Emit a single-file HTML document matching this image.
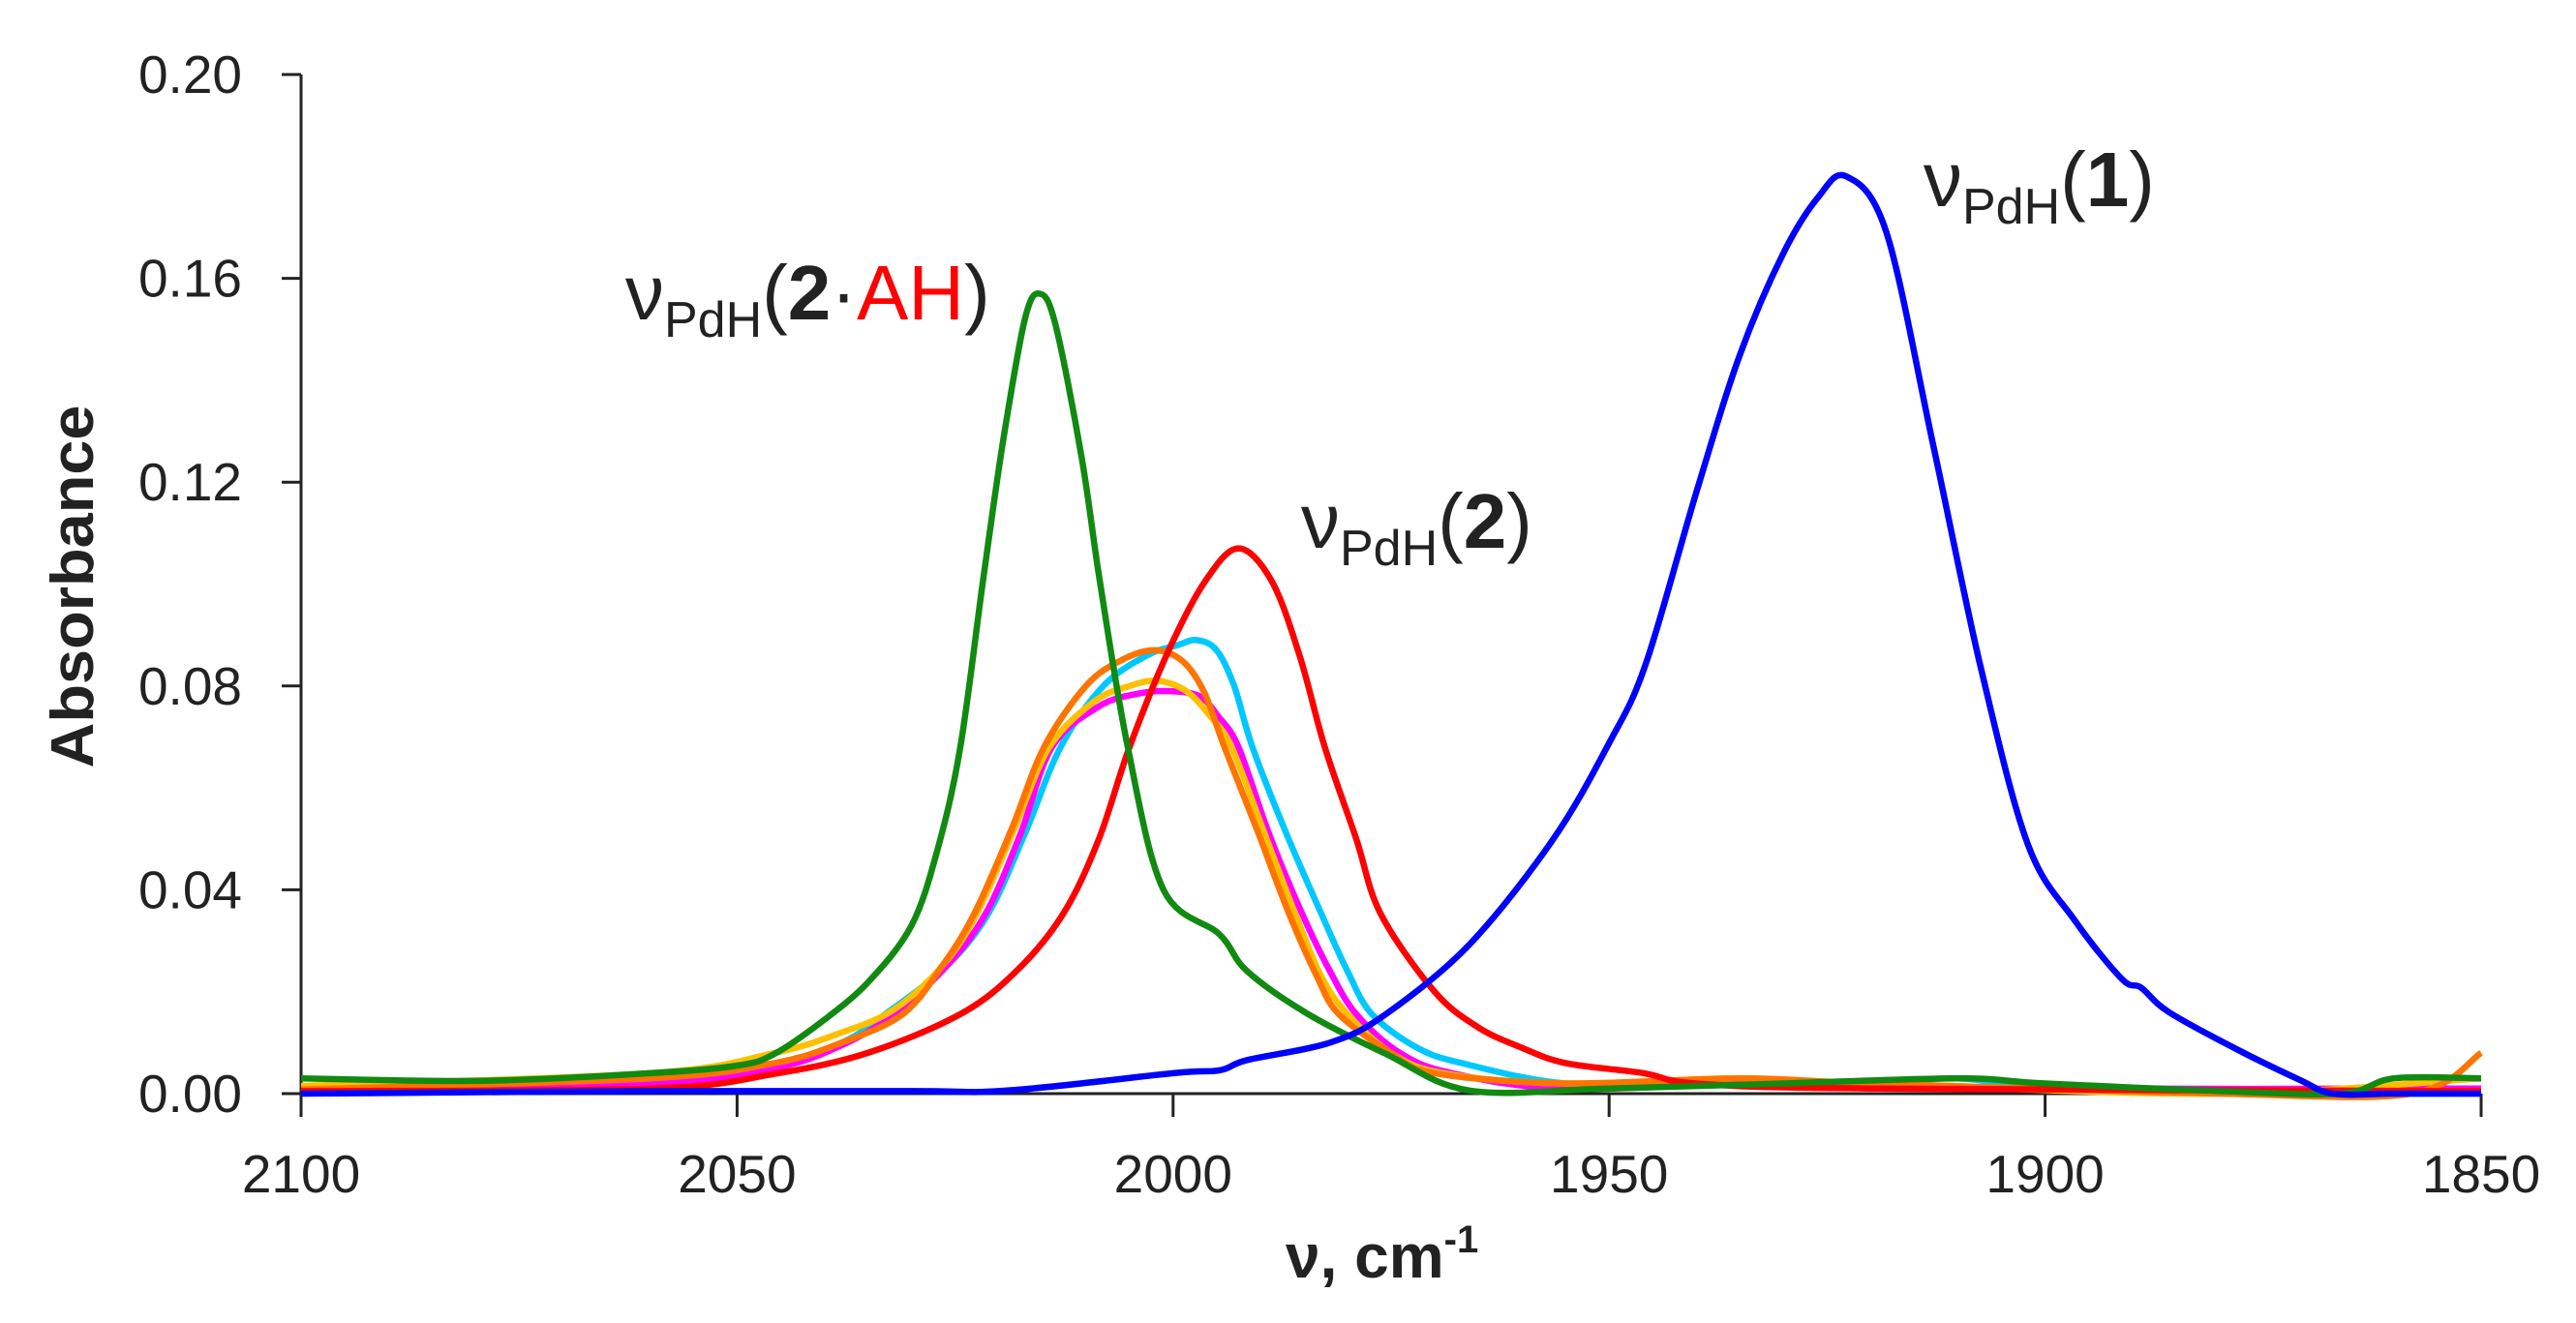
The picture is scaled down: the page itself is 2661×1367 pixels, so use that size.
<!DOCTYPE html>
<html><head><meta charset="utf-8"><style>
html,body{margin:0;padding:0;background:#fff;}
svg{display:block;}
text{font-family:"Liberation Sans",sans-serif;fill:#222;}
</style></head><body>
<svg id="chart" width="2661" height="1367" viewBox="0 0 2661 1367" xmlns="http://www.w3.org/2000/svg">
<g id="axes"></g>
<g id="series"></g>
<text transform="translate(96,606) rotate(-90)" text-anchor="middle" font-size="62" font-weight="bold" textLength="375" lengthAdjust="spacingAndGlyphs">Absorbance</text>
<text x="1328" y="1320" font-size="64" font-weight="bold">ν, cm<tspan dy="-26" font-size="40">-1</tspan></text>
<text x="646" y="330" font-size="80">ν<tspan dy="18" font-size="52">PdH</tspan><tspan dy="-18">(</tspan><tspan font-weight="bold">2</tspan>·<tspan fill="#ff0000" style="fill:#ff0000">AH</tspan>)</text>
<text x="1344" y="566" font-size="80">ν<tspan dy="18" font-size="52">PdH</tspan><tspan dy="-18">(</tspan><tspan font-weight="bold">2</tspan>)</text>
<text x="1987" y="213" font-size="80">ν<tspan dy="18" font-size="52">PdH</tspan><tspan dy="-18">(</tspan><tspan font-weight="bold">1</tspan>)</text>
</svg>
<script>
const xTicks = [2100, 2050, 2000, 1950, 1900, 1850];
const yTicks = [0, 0.04, 0.08, 0.12, 0.16, 0.20];
const yTickLabels = ["0.00", "0.04", "0.08", "0.12", "0.16", "0.20"];

const blueNu = [2100, 2060, 2030, 2019, 2000, 1994.6, 1991.5, 1982, 1975.6, 1966, 1956.5, 1950, 1945.8, 1940, 1935, 1930, 1926, 1922.8, 1918.2, 1912.8, 1907.4, 1902, 1896.6, 1891.2, 1889, 1885.8, 1877.8, 1870.8, 1867, 1860, 1850];
const blueA  = [0.000, 0.0005, 0.0005, 0.0006, 0.004, 0.0046, 0.0066, 0.010, 0.0156, 0.0293, 0.0497, 0.0688, 0.0843, 0.118, 0.145, 0.165, 0.176, 0.180, 0.169, 0.127, 0.0838, 0.049, 0.034, 0.0225, 0.0208, 0.016, 0.0085, 0.0027, 0.0, 0.0, 0.0];

const greenNu = [2100, 2080, 2060, 2050, 2045.7, 2040, 2034.9, 2030, 2027, 2024.4, 2021.8, 2019.5, 2017, 2015.3, 2013.5, 2010.5, 2008.4, 2005.2, 2001.1, 1994.7, 1991.5, 1984.5, 1975.6, 1966, 1950, 1930, 1910, 1900, 1880, 1866, 1860, 1850];
const greenA  = [0.003, 0.0025, 0.004, 0.0055, 0.0078, 0.0145, 0.022, 0.033, 0.048, 0.068, 0.1006, 0.128, 0.152, 0.157, 0.151, 0.125, 0.1006, 0.068, 0.040, 0.0313, 0.024, 0.0156, 0.0078, 0.0006, 0.001, 0.002, 0.003, 0.002, 0.0005, 0.0, 0.003, 0.003];

const redNu = [2100, 2060, 2045.7, 2035, 2024.4, 2018, 2012.6, 2008.5, 2005, 2000.5, 1996.3, 1992.5, 1988.7, 1985.5, 1982.6, 1979, 1976.2, 1970, 1965, 1960, 1955, 1946, 1940, 1920, 1850];
const redA  = [0.0005, 0.001, 0.0039, 0.008, 0.0156, 0.024, 0.0353, 0.050, 0.068, 0.087, 0.1006, 0.107, 0.1006, 0.086, 0.068, 0.050, 0.0353, 0.020, 0.013, 0.009, 0.006, 0.004, 0.002, 0.001, 0.0005];

const cyanNu = [2100, 2060, 2045.7, 2038, 2033, 2026, 2021.2, 2017, 2012.9, 2008, 2003, 1999.5, 1997.3, 1995, 1993, 1990.9, 1987, 1983, 1980, 1977.2, 1972, 1966.7, 1955, 1940, 1920, 1910, 1900, 1880, 1850];
const cyanA  = [0.0003, 0.002, 0.0059, 0.010, 0.0156, 0.025, 0.0353, 0.051, 0.068, 0.080, 0.086, 0.088, 0.089, 0.087, 0.080, 0.068, 0.051, 0.0353, 0.024, 0.0156, 0.009, 0.0059, 0.002, 0.002, 0.002, 0.003, 0.001, 0.0, 0.0];

const magentaNu = [2100, 2060, 2045.7, 2038, 2032, 2026, 2021.5, 2017.5, 2013.9, 2008.5, 2004, 2000.5, 1997, 1994.8, 1992.5, 1989, 1985.2, 1982, 1979, 1974, 1968, 1955, 1930, 1900, 1850];
const magentaA  = [0.0003, 0.002, 0.005, 0.0095, 0.0156, 0.025, 0.0353, 0.051, 0.068, 0.076, 0.0785, 0.079, 0.078, 0.074, 0.068, 0.051, 0.0353, 0.024, 0.0156, 0.008, 0.004, 0.001, 0.002, 0.001, 0.001];

const orangeNu = [2100, 2060, 2045.7, 2038, 2031, 2026.5, 2022.8, 2018.5, 2014.8, 2010, 2006, 2002.2, 1999, 1996.5, 1994.1, 1990.2, 1986.7, 1983.5, 1981, 1975, 1970, 1955, 1935, 1920, 1880, 1858, 1850];
const orangeA  = [0.0008, 0.003, 0.006, 0.010, 0.0156, 0.025, 0.0353, 0.052, 0.068, 0.080, 0.085, 0.087, 0.085, 0.079, 0.068, 0.051, 0.0353, 0.023, 0.0156, 0.008, 0.004, 0.002, 0.003, 0.002, 0.0, 0.0, 0.008];

const yellowNu = [2100, 2060, 2045.7, 2038, 2032, 2026.5, 2022.5, 2018.2, 2014.2, 2009, 2005, 2001.8, 1998.5, 1995.7, 1993.3, 1989.5, 1986, 1983, 1980, 1975, 1969, 1955, 1935, 1920, 1880, 1850];
const yellowA  = [0.0015, 0.004, 0.008, 0.012, 0.0165, 0.025, 0.0353, 0.052, 0.068, 0.077, 0.080, 0.081, 0.079, 0.074, 0.068, 0.051, 0.0353, 0.023, 0.0156, 0.008, 0.004, 0.002, 0.003, 0.002, 0.0, 0.003];

const X0 = 311, X1 = 2563, Y0 = 1130, Y1 = 77;
function xs(nu){ return X0 + (2100 - nu) / 250 * (X1 - X0); }
function ys(a){ return Y0 - a / 0.20 * (Y0 - Y1); }
const NS = "http://www.w3.org/2000/svg";
const axes = document.getElementById('axes');
const seriesG = document.getElementById('series');

function line(x1,y1,x2,y2,name){
  const l = document.createElementNS(NS,'line');
  l.setAttribute('x1',x1); l.setAttribute('y1',y1); l.setAttribute('x2',x2); l.setAttribute('y2',y2);
  l.setAttribute('stroke','#222'); l.setAttribute('stroke-width','3');
  
  
  axes.appendChild(l);
}
line(X0, Y1, X0, Y0, 'y-axis-line');
line(X0, Y0, X1, Y0, 'x-axis-line');
yTicks.forEach((v,i)=>{
  const y = ys(v);
  line(X0-20, y, X0, y, 'y-tick');
  const t = document.createElementNS(NS,'text');
  t.setAttribute('x', 250); t.setAttribute('y', y+19);
  t.setAttribute('text-anchor','end'); t.setAttribute('font-size','55');
  t.textContent = yTickLabels[i];
  
  
  axes.appendChild(t);
});
xTicks.forEach((v)=>{
  const x = xs(v);
  line(x, Y0, x, Y0+24, 'x-tick');
  const t = document.createElementNS(NS,'text');
  t.setAttribute('x', x); t.setAttribute('y', 1232);
  t.setAttribute('text-anchor','middle'); t.setAttribute('font-size','55');
  t.textContent = String(v);
  
  
  axes.appendChild(t);
});

function pathFor(nu, a){
  const p = nu.map((n,i)=>[xs(n), ys(a[i])]);
  let d = 'M' + p[0][0].toFixed(1) + ',' + p[0][1].toFixed(1);
  for(let i=0;i<p.length-1;i++){
    const p0 = p[Math.max(0,i-1)], p1 = p[i], p2 = p[i+1], p3 = p[Math.min(p.length-1,i+2)];
    const c1x = p1[0] + (p2[0]-p0[0])/6, c1y = p1[1] + (p2[1]-p0[1])/6;
    const c2x = p2[0] - (p3[0]-p1[0])/6, c2y = p2[1] - (p3[1]-p1[1])/6;
    d += ' C' + c1x.toFixed(1)+','+c1y.toFixed(1)+' '+c2x.toFixed(1)+','+c2y.toFixed(1)+' '+p2[0].toFixed(1)+','+p2[1].toFixed(1);
  }
  return d;
}
function addSeries(nu, a, color, name){
  const path = document.createElementNS(NS,'path');
  path.setAttribute('d', pathFor(nu, a));
  path.setAttribute('fill','none'); path.setAttribute('stroke', color);
  path.setAttribute('stroke-width','6.5'); path.setAttribute('stroke-linejoin','round');
  
  
  seriesG.appendChild(path);
}
addSeries(cyanNu, cyanA, '#00c8ff', 'series-cyan');
addSeries(magentaNu, magentaA, '#ff00ff', 'series-magenta');
addSeries(yellowNu, yellowA, '#ffc000', 'series-yellow');
addSeries(orangeNu, orangeA, '#ff7400', 'series-orange');
addSeries(redNu, redA, '#ff0000', 'series-red');
addSeries(greenNu, greenA, '#118a11', 'series-green');
addSeries(blueNu, blueA, '#0000ff', 'series-blue');
</script>
</body></html>
